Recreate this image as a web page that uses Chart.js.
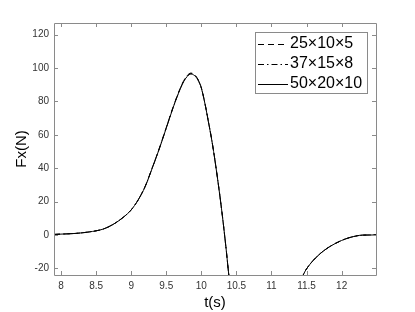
<!DOCTYPE html>
<html>
<head>
<meta charset="utf-8">
<script src="https://cdn.jsdelivr.net/npm/chart.js@4"></script>
<style>
  html, body { margin: 0; padding: 0; background: #fff; }
  #wrap { width: 415px; height: 312px; }
</style>
</head>
<body>
<div id="wrap"><canvas id="fxChart" width="415" height="312"></canvas></div>
<script>
// Time axis (s), shared by all three meshes
const timeSec = [7.9, 8.0, 8.2, 8.4, 8.6, 8.75, 8.9, 9.0, 9.1, 9.2, 9.3, 9.4, 9.5, 9.6, 9.7, 9.75,
  9.8, 9.85, 9.9, 9.95, 10.0, 10.05, 10.1, 10.15, 10.2, 10.25, 10.3, 10.35, 10.4, 10.45, 10.5,
  10.7, 11.0, 11.2, 11.3, 11.4, 11.46, 11.55, 11.7, 11.83, 12.0, 12.12, 12.3, 12.49];

// Fx (N) per mesh
const fx25 = [0.3, 0.5, 0.9, 1.8, 3.5, 6.5, 11, 15, 21, 29.2, 40.2, 51.8, 64.3, 76.9, 88, 92.5,
  95.6, 97, 96.2, 93.4, 88.3, 79.2, 68.2, 56.7, 43.2, 28.1, 11.6, -7, -27, -42, -56,
  -82, -90, -66, -46, -30, -23.3, -17.5, -11, -7, -3.3, -1.5, -0.1, 0];
const fx37 = [0.3, 0.5, 0.9, 1.8, 3.5, 6.5, 11, 15, 21, 29.1, 40.1, 51.6, 64.1, 76.7, 87.8, 92.2,
  95.3, 96.7, 95.9, 93.2, 88.1, 79.1, 68.1, 56.6, 43.1, 28, 11.5, -7, -27, -42, -56,
  -82, -90, -66, -46, -30, -23.3, -17.5, -11, -7, -3.3, -1.5, -0.1, 0];
const fx50 = [0.3, 0.5, 0.9, 1.8, 3.5, 6.5, 11, 15, 21, 29, 40, 51.5, 64, 76.5, 87.5, 92,
  95, 96.4, 95.6, 93, 88, 79, 68, 56.5, 43, 28, 11.5, -7, -27, -42, -56,
  -82, -90, -66, -46, -30, -23.3, -17.5, -11, -7, -3.3, -1.5, -0.1, 0];

const seriesLabels = ['25×10×5', '37×15×8', '50×20×10'];
const seriesDash = [[6, 4], [6, 3, 1.5, 3], []];

const FONT = 'Liberation Sans, Arial, Helvetica, sans-serif';
const AXIS_COLOR = '#8a8a8a';
const TEXT_COLOR = '#333333';

function toPoints(values) {
  return timeSec.map((t, i) => ({ x: t, y: values[i] }));
}

// plain tick text: 8, 8.5, 9 ...
function plainTick(value) {
  return String(Number(value.toFixed(2)));
}

// MATLAB-style box with inward ticks on all four sides
const boxAxes = {
  id: 'boxAxes',
  afterDatasetsDraw(chart) {
    const { ctx, chartArea: area, scales } = chart;
    const tick = 4;
    ctx.save();
    ctx.strokeStyle = AXIS_COLOR;
    ctx.lineWidth = 1;
    ctx.beginPath();
    ctx.rect(Math.round(area.left) + 0.5, Math.round(area.top) + 0.5,
      Math.round(area.right - area.left), Math.round(area.bottom - area.top));
    scales.x.ticks.forEach(t => {
      const px = Math.round(scales.x.getPixelForValue(t.value)) + 0.5;
      ctx.moveTo(px, area.bottom); ctx.lineTo(px, area.bottom - tick);
      ctx.moveTo(px, area.top); ctx.lineTo(px, area.top + tick);
    });
    scales.y.ticks.forEach(t => {
      const py = Math.round(scales.y.getPixelForValue(t.value)) + 0.5;
      ctx.moveTo(area.left, py); ctx.lineTo(area.left + tick, py);
      ctx.moveTo(area.right, py); ctx.lineTo(area.right - tick, py);
    });
    ctx.stroke();
    ctx.restore();
  }
};

// Boxed legend in the upper right corner of the plot
const boxLegend = {
  id: 'boxLegend',
  afterDraw(chart) {
    const { ctx } = chart;
    const x0 = 255, y0 = 32, w = 112, rowH = 20;
    const sets = chart.data.datasets;
    ctx.save();
    ctx.fillStyle = '#fff';
    ctx.fillRect(x0, y0, w, rowH * sets.length + 1);
    ctx.strokeStyle = AXIS_COLOR;
    ctx.lineWidth = 1;
    ctx.strokeRect(x0 + 0.5, y0 + 0.5, w, rowH * sets.length + 1);
    ctx.font = '16px ' + FONT;
    ctx.textBaseline = 'middle';
    ctx.fillStyle = '#000';
    sets.forEach((ds, i) => {
      const cy = y0 + 12 + i * rowH;
      ctx.beginPath();
      ctx.setLineDash(ds.borderDash || []);
      ctx.strokeStyle = '#000';
      ctx.moveTo(x0 + 3, cy + 0.5);
      ctx.lineTo(x0 + 33, cy + 0.5);
      ctx.stroke();
      ctx.setLineDash([]);
      ctx.fillText(ds.label, x0 + 35, cy);
    });
    ctx.restore();
  }
};

const ctx = document.getElementById('fxChart').getContext('2d');
const fxChart = new Chart(ctx, {
  type: 'line',
  data: {
    datasets: [fx25, fx37, fx50].map((vals, i) => ({
      label: seriesLabels[i],
      data: toPoints(vals),
      borderColor: '#000',
      borderWidth: 1,
      borderDash: seriesDash[i],
      pointRadius: 0,
      fill: false,
      cubicInterpolationMode: 'monotone'
    }))
  },
  options: {
    responsive: false,
    animation: false,
    layout: { padding: { left: 0, top: 23, right: 39, bottom: 0 } },
    plugins: {
      legend: { display: false },
      tooltip: { enabled: false }
    },
    scales: {
      x: {
        type: 'linear',
        min: 7.9,
        max: 12.49,
        grid: { display: false, drawTicks: false },
        border: { display: false },
        ticks: {
          stepSize: 0.5,
          includeBounds: false,
          padding: 5,
          color: TEXT_COLOR,
          font: { family: FONT, size: 10 },
          maxRotation: 0,
          callback: plainTick
        },
        title: {
          display: true,
          text: 't(s)',
          color: '#000',
          font: { family: FONT, size: 15 },
          padding: { top: 0, bottom: 0 }
        },
        afterFit(scale) { scale.height = 37; }
      },
      y: {
        min: -24,
        max: 127,
        grid: { display: false, drawTicks: false },
        border: { display: false },
        ticks: {
          stepSize: 20,
          includeBounds: false,
          padding: 5,
          color: TEXT_COLOR,
          font: { family: FONT, size: 10 },
          callback: plainTick
        },
        title: {
          display: true,
          text: 'Fx(N)',
          color: '#000',
          font: { family: FONT, size: 15 },
          padding: { top: 13, bottom: 0 }
        },
        afterFit(scale) { scale.width = 54; }
      }
    }
  },
  plugins: [boxAxes, boxLegend]
});
</script>
</body>
</html>
